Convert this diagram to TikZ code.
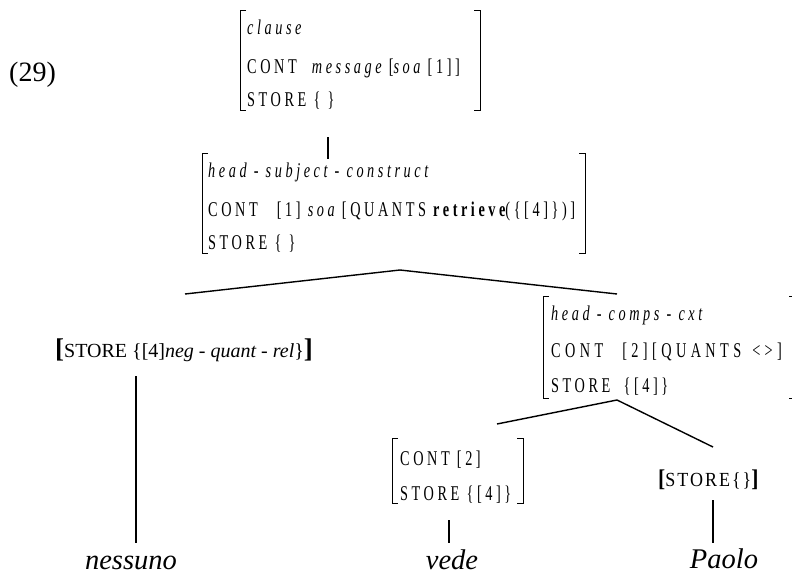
\documentclass[tikz,border=0pt]{standalone}
\usepackage{fontspec}
\setmainfont{Liberation Serif}
\newfontfamily\avmfont[LetterSpace=17,FakeStretch=0.68]{Liberation Serif}
\newfontfamily\avmwide[LetterSpace=21,FakeStretch=0.68]{Liberation Serif}
\newfontfamily\avmsmall[LetterSpace=10,FakeStretch=0.9]{Liberation Serif}
\newcommand\avmbox[4]{%
  \draw[brk] (#1+6,#2) -- (#1,#2) -- (#1,#4) -- (#1+6,#4);
  \draw[brk] (#3-6,#2) -- (#3,#2) -- (#3,#4) -- (#3-6,#4);}
\begin{document}
\begin{tikzpicture}[x=1pt,y=-1pt,
  avmtext/.style={anchor=base west, inner sep=0pt, font=\avmfont\fontsize{21}{21}\selectfont},
  avmwidetext/.style={anchor=base west, inner sep=0pt, font=\avmwide\fontsize{21}{21}\selectfont},
  brk/.style={line width=1pt},
  edge/.style={line width=1.4pt},
  word/.style={anchor=base, inner sep=0pt, font=\fontsize{28.5}{28.5}\selectfont\itshape}]
\useasboundingbox (0,0) rectangle (792,576);
% example number
\node[anchor=base west, inner sep=0pt, font=\fontsize{28}{28}\selectfont] (num) at (9,81) {(29)};
% top AVM
\avmbox{240}{10}{480}{110}
\node[avmtext] (t1) at (247,34) {\itshape clause};
\node[avmtext] (t2) at (247,73) {CONT\hspace{8pt} \itshape message \upshape[\itshape soa \upshape[1]]};
\node[avmtext] (t3) at (247,106) {STORE \{ \}};
% second AVM
\avmbox{202}{153}{585}{253}
\node[avmtext] (h1) at (208,177) {\itshape head - subject - construct};
\node[avmtext] (h2) at (208,216) {CONT\hspace{12pt} [1] \itshape soa \upshape[QUANTS \bfseries retrieve\mdseries(\{[4]\})]};
\node[avmtext] (h3) at (208,249) {STORE \{ \}};
% head-comps AVM
\avmbox{543}{296}{795}{398}
\node[avmtext] (c1) at (551,320) {\itshape head - comps - cxt};
\node[avmwidetext] (c2) at (551,357) {CONT\hspace{11pt} [2][QUANTS\hspace{3pt} <>]};
\node[avmtext] (c3) at (551,392) {STORE\hspace{6pt} \{[4]\}};
% small AVM
\avmbox{392}{438}{523}{503}
\node[avmtext] (s1) at (400,465) {CONT [2]};
\node[avmtext] (s2) at (400,500) {STORE \{[4]\}};
% subject store
\node[anchor=base west, inner sep=0pt, font=\fontsize{20}{20}\selectfont] (neg) at (55,357)
  {{\fontsize{27}{27}\selectfont\bfseries[}STORE \{[4]\textit{neg - quant - rel}\}{\fontsize{27}{27}\selectfont\bfseries]}};
% object store
\node[anchor=base west, inner sep=0pt, font=\avmsmall\fontsize{20}{20}\selectfont] (obj) at (658,486)
  {{\fontsize{24}{24}\selectfont\bfseries[}STORE\{\}{\fontsize{24}{24}\selectfont\bfseries]}};
% words
\node[word] (w1) at (131,569) {nessuno};
\node[word] (w2) at (452,569) {vede};
\node[word] (w3) at (724,568) {Paolo};
% connector points
\coordinate (a0) at (328,137);
\coordinate (a1) at (328,159);
\coordinate (b0) at (400,270);
\coordinate (bl) at (185,294);
\coordinate (br) at (617,294);
\coordinate (n0) at (136,376);
\coordinate (n1) at (136,543);
\coordinate (c0) at (617,400);
\coordinate (cl) at (497,424);
\coordinate (cr) at (713,447);
\coordinate (v0) at (449,520);
\coordinate (v1) at (449,543);
\coordinate (p0) at (713,500);
\coordinate (p1) at (713,543);
\draw[edge] (a0) -- (a1);
\draw[edge] (bl) -- (b0) -- (br);
\draw[edge] (n0) -- (n1);
\draw[edge] (cl) -- (c0) -- (cr);
\draw[edge] (v0) -- (v1);
\draw[edge] (p0) -- (p1);
\end{tikzpicture}
\end{document}
